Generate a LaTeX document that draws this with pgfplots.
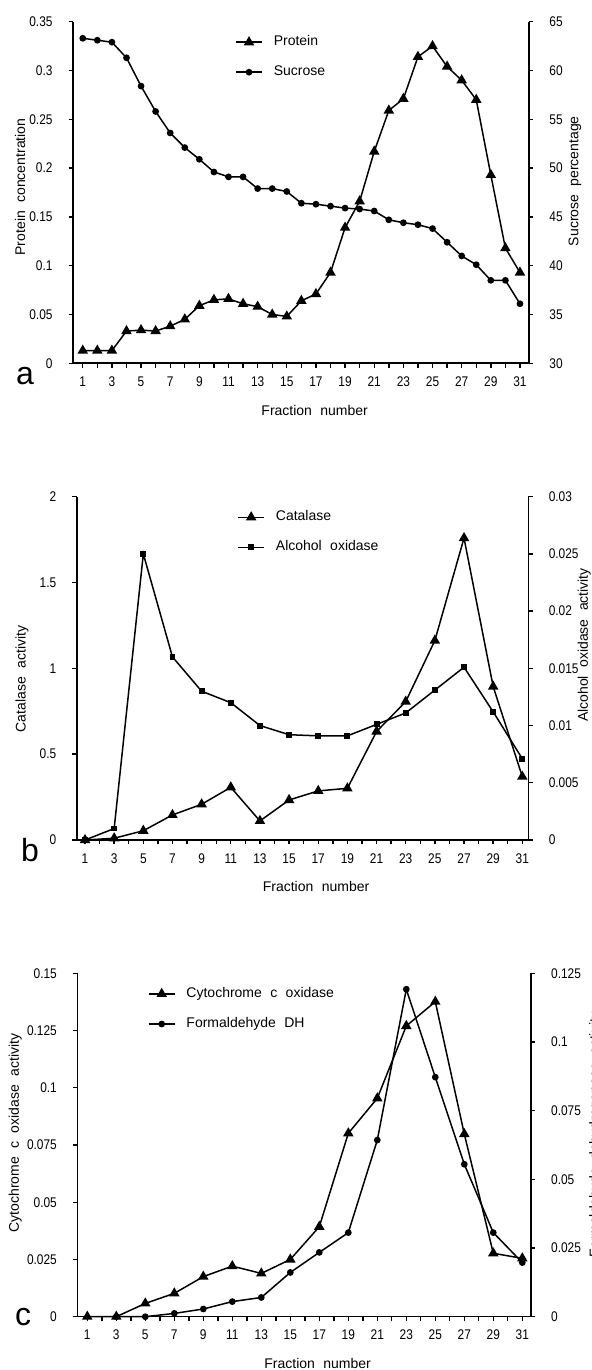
\documentclass[border=0pt]{standalone}
\usepackage{fontspec}
\setmainfont{Liberation Sans}
\newfontfamily\tickfont[FakeStretch=0.85]{Liberation Sans}
\usepackage{pgfplots}
\usepackage{pgfplotstable}
\pgfplotsset{compat=1.18}

% panel a: protein concentration and sucrose percentage
\pgfplotstableread{
frac protein sucrose
1  0.013 63.3
2  0.013 63.1
3  0.013 62.9
4  0.033 61.3
5  0.034 58.4
6  0.033 55.8
7  0.038 53.6
8  0.045 52.1
9  0.059 50.9
10 0.065 49.6
11 0.066 49.1
12 0.061 49.1
13 0.058 47.9
14 0.050 47.9
15 0.048 47.6
16 0.064 46.4
17 0.071 46.3
18 0.093 46.1
19 0.139 45.9
20 0.166 45.8
21 0.217 45.6
22 0.259 44.7
23 0.271 44.4
24 0.314 44.2
25 0.325 43.8
26 0.304 42.4
27 0.290 41.0
28 0.270 40.1
29 0.193 38.5
30 0.118 38.5
31 0.093 36.1
}\tabA

% panel b: catalase and alcohol oxidase
\pgfplotstableread{
frac catalase aox
1  0     0
3  0.010 0.0010
5  0.054 0.0250
7  0.146 0.0160
9  0.208 0.0130
11 0.307 0.0120
13 0.111 0.0100
15 0.233 0.0092
17 0.286 0.0091
19 0.301 0.0091
21 0.632 0.0101
23 0.806 0.0111
25 1.162 0.0131
27 1.759 0.0151
29 0.894 0.0112
31 0.369 0.0071
}\tabB

% panel c: cytochrome c oxidase and formaldehyde DH
\pgfplotstableread{
frac cyt fdh
1  0      nan
3  0      0
5  0.0058 0
7  0.0102 0.0012
9  0.0175 0.0028
11 0.0221 0.0055
13 0.0189 0.0070
15 0.0250 0.0161
17 0.0393 0.0234
19 0.0801 0.0306
21 0.0954 0.0643
23 0.1270 0.1192
25 0.1376 0.0872
27 0.0798 0.0555
29 0.0277 0.0306
31 0.0255 0.0197
}\tabC

\newcommand{\gap}{\hspace{0.6em}}

\pgfplotsset{
  base/.style={
    scale only axis, clip=false,
    tick align=outside,
    axis line style={line width=0.8pt},
    every tick/.style={black, line width=0.7pt},
    major tick length=2.2pt, minor tick length=2.2pt,
    tick label style={font=\tickfont\fontsize{7}{8}\selectfont},
    label style={font=\fontsize{7}{8}\selectfont},
    scaled y ticks=false,
    /pgf/number format/assume math mode=true,
    /pgf/number format/fixed,
    /pgf/number format/precision=3,
  },
  leftax/.style={base,
    axis x line*=bottom, axis y line*=left,
    xtick={1,3,...,31}, minor xtick={2,4,...,30},
    yticklabel style={xshift=-4.5pt},
    xticklabel style={yshift=-1pt},
    xlabel={Fraction\gap number},
    xlabel style={at={(axis description cs:0.53,0)}, anchor=center, yshift=-23.4pt},
  },
  rightax/.style={base,
    axis x line=none, axis y line*=right,
    yticklabel style={xshift=4.5pt},
    legend image code/.code={\draw[mark repeat=2,mark phase=2] plot coordinates {(0pt,0pt)(6.5pt,0pt)(13pt,0pt)};\path (16.5pt,0pt);},
    legend style={draw=none, fill=none, anchor=north west, inner sep=0pt,
      row sep=4.5pt, font=\fontsize{7}{8}\selectfont, cells={anchor=west}},
  },
  tri/.style={black, line width=0.75pt, mark=triangle*, mark size=2.3pt},
  dot/.style={black, line width=0.75pt, mark=*, mark size=1.3pt},
  sq/.style={black, line width=0.75pt, mark=square*, mark size=1.1pt},
}

\begin{document}
\begin{tikzpicture}
% ---------- panel a ----------
\begin{axis}[leftax, at={(36.5pt,503.35pt)}, anchor=south west,
  width=228pt, height=170.8pt, xmin=0.33, xmax=31.62, ymin=0, ymax=0.35,
  ytick={0,0.05,0.1,0.15,0.2,0.25,0.3,0.35},
  ylabel={Protein\gap concentration},
  ylabel style={at={(axis description cs:0,0.516)}, anchor=center, yshift=26.5pt}]
\addplot[tri] table[x=frac, y=protein]{\tabA};
\end{axis}
\begin{axis}[rightax, at={(36.5pt,503.35pt)}, anchor=south west,
  width=228pt, height=170.8pt, xmin=0.33, xmax=31.62, ymin=30, ymax=65,
  ytick={30,35,40,45,50,55,60,65},
  ylabel={Sucrose\gap percentage},
  ylabel style={at={(axis description cs:1,0.533)}, anchor=center, yshift=-23pt},
  legend style={at={(0.355,0.972)}}]
\addlegendimage{tri}
\addlegendentry{Protein}
\addplot[dot] table[x=frac, y=sucrose]{\tabA};
\addlegendentry{Sucrose}
\end{axis}
\node[anchor=base, font=\fontsize{16}{16}\selectfont] at (12.5pt,492.5pt) {a};

% ---------- panel b ----------
\begin{axis}[leftax, at={(38.35pt,265pt)}, anchor=south west,
  width=225.8pt, height=171.65pt, xmin=0.43, xmax=31.41, ymin=0, ymax=2,
  ytick={0,0.5,1,1.5,2},
  ylabel={Catalase\gap activity},
  ylabel style={at={(axis description cs:0,0.469)}, anchor=center, yshift=27.3pt}]
\addplot[tri] table[x=frac, y=catalase]{\tabB};
\end{axis}
\begin{axis}[rightax, at={(38.35pt,265pt)}, anchor=south west,
  width=225.8pt, height=171.65pt, xmin=0.43, xmax=31.41, ymin=0, ymax=0.03,
  ytick={0,0.005,0.01,0.015,0.02,0.025,0.03},
  ylabel={Alcohol\gap oxidase\gap activity},
  ylabel style={at={(axis description cs:1,0.568)}, anchor=center, yshift=-28pt},
  legend style={at={(0.355,0.972)}}]
\addlegendimage{tri}
\addlegendentry{Catalase}
\addplot[sq] table[x=frac, y=aox]{\tabB};
\addlegendentry{Alcohol\gap oxidase}
\end{axis}
\node[anchor=base, font=\fontsize{16}{16}\selectfont] at (15pt,254pt) {b};

% ---------- panel c ----------
\begin{axis}[leftax, at={(38.65pt,26.65pt)}, anchor=south west,
  width=226.7pt, height=171.7pt, xmin=0.31, xmax=31.58, ymin=0, ymax=0.15,
  ytick={0,0.025,0.05,0.075,0.1,0.125,0.15},
  ylabel={Cytochrome\gap c\gap oxidase\gap activity},
  ylabel style={at={(axis description cs:0,0.535)}, anchor=center, yshift=31pt}]
\addplot[tri] table[x=frac, y=cyt]{\tabC};
\end{axis}
\begin{axis}[rightax, at={(38.65pt,26.65pt)}, anchor=south west,
  width=226.7pt, height=171.7pt, xmin=0.31, xmax=31.58, ymin=0, ymax=0.125,
  ytick={0,0.025,0.05,0.075,0.1,0.125},
  ylabel={Formaldehyde\gap dehydrogenase\gap activity},
  ylabel style={at={(axis description cs:1,0.53)}, anchor=center, yshift=-32.5pt},
  legend style={at={(0.155,0.972)}}]
\addlegendimage{tri}
\addlegendentry{Cytochrome\gap c\gap oxidase}
\addplot[dot] table[x=frac, y=fdh]{\tabC};
\addlegendentry{Formaldehyde\gap DH}
\end{axis}
\node[anchor=base, font=\fontsize{16}{16}\selectfont] at (11.5pt,22pt) {c};

\pgfresetboundingbox
\path[use as bounding box] (0,0) rectangle (296pt,685pt);
\end{tikzpicture}
\end{document}
